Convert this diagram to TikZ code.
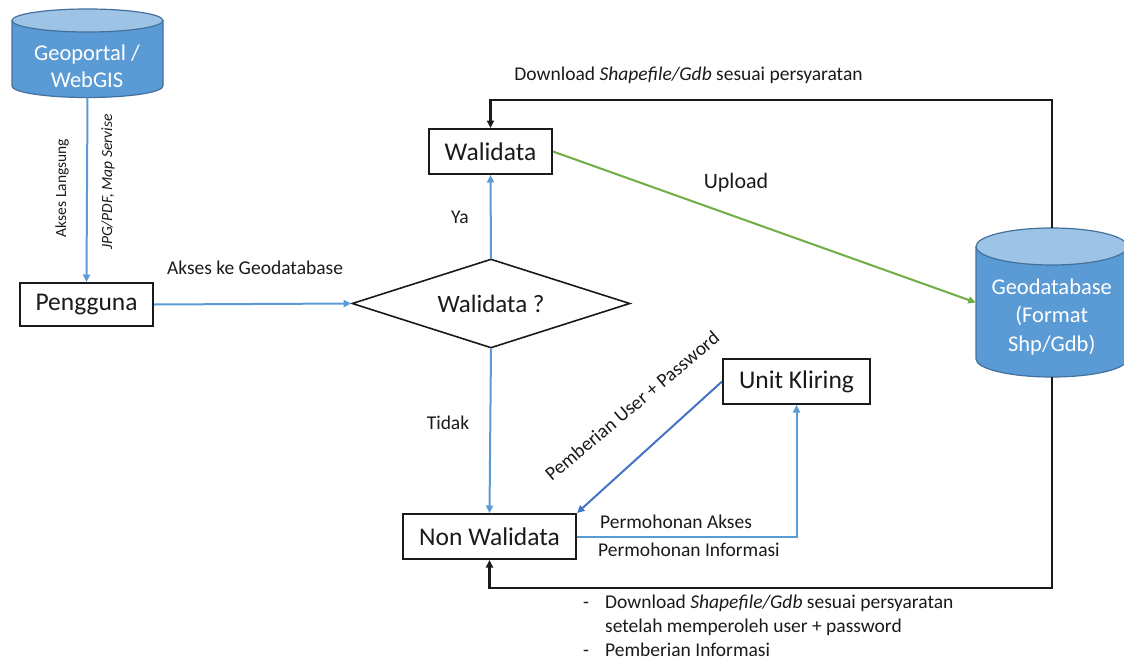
\documentclass[tikz,border=0pt]{standalone}
\usepackage{fontspec}
\setmainfont{Carlito}
\usetikzlibrary{arrows.meta,shapes.geometric}

\definecolor{dbbody}{HTML}{5B9BD5}
\definecolor{dbtop}{HTML}{9DC3E6}
\definecolor{dbedge}{HTML}{41719C}
\definecolor{flowblue}{HTML}{5B9BD5}
\definecolor{grantblue}{HTML}{4472C4}
\definecolor{uploadgreen}{HTML}{70AD47}
\definecolor{ink}{HTML}{1A1A1A}

% database drawn as a cylinder: centre x, top-ellipse y, bottom-ellipse y, half width, top radius, bottom radius
\newcommand\dbdrum[6]{%
  \fill[dbbody] (#1-#4,#2) -- (#1-#4,#3)
    arc[start angle=180,end angle=0,x radius=#4,y radius=#6] -- (#1+#4,#2) -- cycle;
  \draw[dbedge,line width=1.2pt] (#1-#4,#2) -- (#1-#4,#3)
    arc[start angle=180,end angle=0,x radius=#4,y radius=#6] -- (#1+#4,#2);
  \filldraw[fill=dbtop,draw=dbedge,line width=1.2pt] (#1,#2) ellipse[x radius=#4,y radius=#5];
}

\tikzset{
  box/.style={draw=ink,line width=2pt,fill=white,inner sep=0pt,text=ink,
    font=\fontsize{25.5}{30}\selectfont},
  decision/.style={diamond,draw=ink,line width=1.6pt,inner sep=0pt,text=ink,
    font=\fontsize{25}{30}\selectfont},
  dbframe/.style={rectangle,inner sep=0pt},
  dbtext/.style={text=white,align=center,font=\fontsize{22.5}{27.5}\selectfont},
  lbl/.style={text=ink,inner sep=0pt,font=\fontsize{19.5}{24}\selectfont},
  sidelbl/.style={text=ink,inner sep=0pt,font=\fontsize{15.5}{19}\selectfont},
  tip/.style={-{Triangle[length=7.5pt,width=7pt]}},
  blueflow/.style={tip,draw=flowblue,line width=2pt},
  grantflow/.style={tip,draw=grantblue,line width=2pt},
  greenflow/.style={tip,draw=uploadgreen,line width=2pt},
  blackflow/.style={tip,draw=ink,line width=2.2pt},
}

\begin{document}
\begin{tikzpicture}[x=1pt,y=-1pt]
\useasboundingbox (0,0) rectangle (1124,661);
\clip (0,0) rectangle (1124,661);

% databases
\dbdrum{87.5}{20.5}{86}{75.5}{11.5}{11.5}
\node[dbframe,minimum width=151pt,minimum height=88.5pt] (geo) at (87.5,53.25) {};
\node[dbtext] at (87,66.5) {Geoportal /\\WebGIS};

\dbdrum{1051.7}{246.5}{359}{75.7}{18.5}{18}
\node[dbframe,minimum width=151.4pt,minimum height=149pt] (gdb) at (1051.7,302.5) {};
\node[dbtext,font=\fontsize{22.5}{28.5}\selectfont] at (1051.7,316.5) {Geodatabase\\(Format\\Shp/Gdb)};

% process boxes
\node[box,minimum width=133pt,minimum height=43pt] (peng) at (86.5,304.5) {Pengguna};
\node[box,minimum width=123pt,minimum height=45pt] (wali) at (490.5,151.5) {Walidata};
\node[box,minimum width=173pt,minimum height=45pt] (nonw) at (489.5,536.5) {Non Walidata};
\node[box,minimum width=147pt,minimum height=45pt] (unit) at (796.5,381.5) {Unit Kliring};
\node[decision,aspect=3.12,minimum width=278pt,minimum height=89pt] (dia) at (491,303.5) {Walidata ?};

% connectors
\draw[blueflow] (geo.south) -- (peng.north);
\node[sidelbl,rotate=90] at (62,188) {Akses Langsung};
\node[sidelbl,rotate=90] at (108,182) {\itshape JPG/PDF, Map Servise};

\draw[blueflow] (peng.east) -- (dia.west);
\node[lbl] at (255,268) {Akses ke Geodatabase};

\draw[blueflow] (dia.north) -- (wali.south);
\node[lbl] at (460,217) {Ya};

\draw[blueflow] (dia.south) -- (nonw.north);
\node[lbl] at (448,423) {Tidak};

\draw[greenflow] (wali.east) -- (gdb.west);
\node[lbl,font=\fontsize{22}{26}\selectfont] at (736,183) {Upload};

\draw[blackflow] (gdb.north) -- ++(0,-128) -| (wali.north);
\node[lbl] at (688.5,75) {Download \textit{Shapefile/Gdb} sesuai persyaratan};

\draw[blackflow] (gdb.south) -- ++(0,211) -| (nonw.south);

\draw[blueflow] (nonw.east) -| (unit.south);
\node[lbl,anchor=west] at (600,522) {Permohonan Akses};
\node[lbl,anchor=west] at (598,550) {Permohonan Informasi};

\draw[grantflow] (unit.west) -- (nonw.north east);
\node[lbl,rotate=40] at (632,406) {Pemberian User + Password};

% notes under the return line
\node[lbl,anchor=north west] (notes) at (583,591) {%
  \begin{tabular}{@{}l@{\hspace{16pt}}l@{}}
  - & Download \textit{Shapefile/Gdb} sesuai persyaratan\\
    & setelah memperoleh user + password\\
  - & Pemberian Informasi
  \end{tabular}};
\end{tikzpicture}
\end{document}
